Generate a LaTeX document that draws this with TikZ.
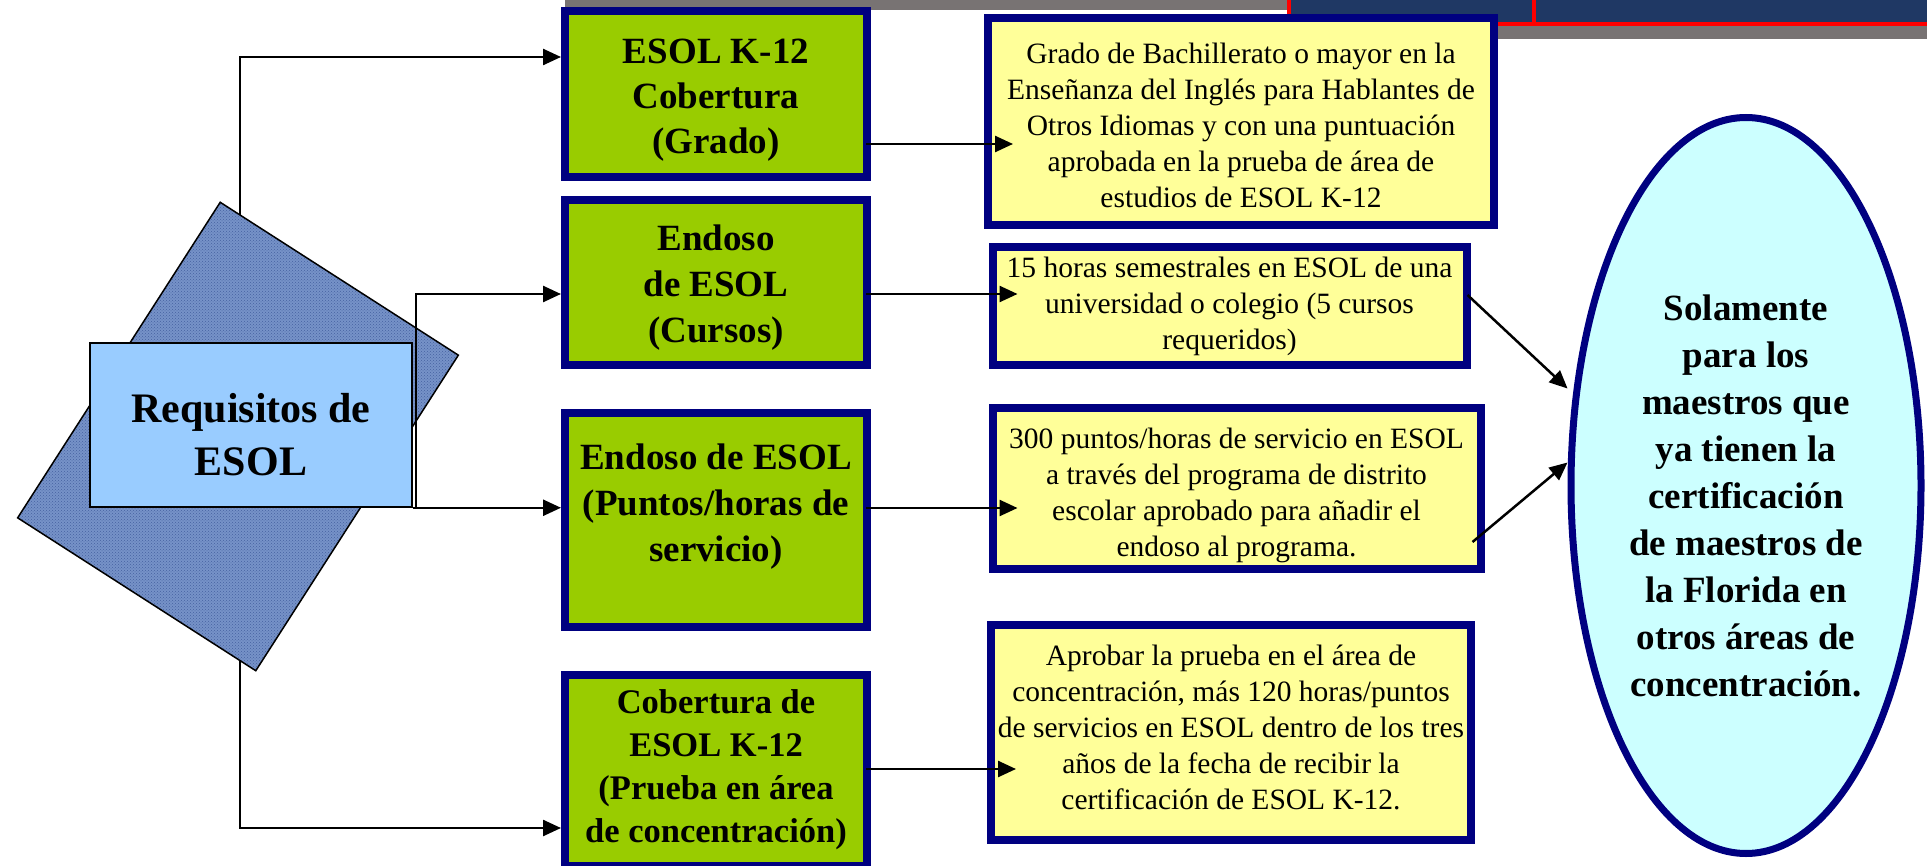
\documentclass[tikz,border=0pt]{standalone}
\usepackage{fontspec}
\setmainfont{Liberation Serif}
\usetikzlibrary{arrows.meta,calc,shapes.geometric,patterns}
\definecolor{navy}{RGB}{0,0,128}
\definecolor{leaf}{RGB}{153,204,0}
\definecolor{paleyellow}{RGB}{255,255,153}
\definecolor{palecyan}{RGB}{204,255,255}
\definecolor{skyblue}{RGB}{153,204,255}
\definecolor{denim}{RGB}{118,146,200}
\definecolor{denimdark}{RGB}{70,98,160}
\definecolor{headblue}{RGB}{31,56,100}
\definecolor{shadowgray}{RGB}{120,115,115}

\begin{document}
\begin{tikzpicture}[x=1pt,y=-1pt]
\tikzstyle{greenbox}=[rectangle, draw=navy, line width=8pt, outer sep=4pt, fill=leaf, inner sep=0pt, minimum width=302pt, align=center, font=\fontsize{37}{46}\selectfont\bfseries]
\tikzstyle{notebox}=[rectangle, draw=navy, line width=8pt, outer sep=4pt, fill=paleyellow, inner sep=0pt, align=center, font=\fontsize{29.5}{36}\selectfont]
\tikzstyle{conn}=[draw=black, line width=2.5pt, -{Triangle[length=18pt,width=16pt]}]

\useasboundingbox (0,0) rectangle (1927,866);
\clip (0,0) rectangle (1927,866);

\fill[shadowgray] (565,-5) rectangle (1295,10);
\fill[shadowgray] (1295,0) rectangle (1940,39);
\draw[red, line width=4pt, fill=headblue] (1289,-10) rectangle (1534,24);
\draw[red, line width=4pt, fill=headblue] (1534,-10) rectangle (1945,24);

\node[greenbox, minimum height=166pt, font=\fontsize{37}{45}\selectfont\bfseries, text height=130pt, text depth=10pt] (g1) at (716,94) {ESOL K-12\\Cobertura\\(Grado)};
\node[greenbox, minimum height=165pt, text height=131pt, text depth=10pt] (g2) at (716,282.5) {Endoso\\de ESOL\\(Cursos)};
\node[greenbox, minimum height=214pt, text height=120pt, text depth=36.6pt] (g3) at (716,520) {Endoso de ESOL\\(Puntos/horas de\\servicio)};
\node[greenbox, minimum height=191pt, font=\fontsize{34.5}{43}\selectfont\bfseries, text height=156pt, text depth=13pt] (g4) at (716,770.5) {Cobertura de\\ESOL K-12\\(Prueba en área\\de concentración)};

\coordinate (hub) at (240,436.5);
\draw[conn] (hub) |- ($(g1.north west)+(0,50)$);
\draw[conn] (hub) |- ($(g4.north west)+(0,157)$);

\node[rectangle, draw=black, line width=1.5pt, minimum width=283pt, minimum height=375pt, rotate=-32.7, preaction={fill=denim}, pattern=crosshatch dots, pattern color=denimdark] (sq) at (238,436.5) {};
\node[rectangle, draw=black, line width=1.5pt, outer sep=0.75pt, fill=skyblue, minimum width=322pt, minimum height=164pt, inner sep=0pt, align=center, text height=110pt, text depth=10pt, font=\fontsize{42}{53}\selectfont\bfseries] (req) at (251,425) {Requisitos de\\ESOL};

\draw[conn] (req.south east) -- ++(3,0) |- ($(g2.north west)+(0,98)$);
\draw[conn] (req.south east) -- (req.south east -| g3.west);

\node[notebox, minimum width=506pt, minimum height=207pt, text height=179pt, text depth=6pt] (y1) at (1241,121.5) {Grado de Bachillerato o mayor en la\\Enseñanza del Inglés para Hablantes de\\Otros Idiomas y con una puntuación\\aprobada en la prueba de área de\\estudios de ESOL K-12};
\node[notebox, minimum width=474pt, minimum height=118pt] (y2) at (1229.5,306) {15 horas semestrales en ESOL de una\\universidad o colegio (5 cursos\\requeridos)};
\node[notebox, minimum width=488pt, minimum height=161pt, text height=141pt, text depth=6pt] (y3) at (1236.5,488.5) {300 puntos/horas de servicio en ESOL\\a través del programa de distrito\\escolar aprobado para añadir el\\endoso al programa.};
\node[notebox, minimum width=480pt, minimum height=215pt, text depth=10pt] (y4) at (1231,732.5) {Aprobar la prueba en el área de\\concentración, más 120 horas/puntos\\de servicios en ESOL dentro de los tres\\años de la fecha de recibir la\\certificación de ESOL K-12.};

\node[ellipse, draw=navy, line width=7pt, outer sep=3.5pt, fill=palecyan, minimum width=350pt, minimum height=736pt, inner sep=0pt, align=center, text height=431pt, text depth=10pt, font=\fontsize{37}{47}\selectfont\bfseries] (el) at (1746,485.5) {Solamente\\para los\\maestros que\\ya tienen la\\certificación\\de maestros de\\la Florida en\\otros áreas de\\concentración.};

\foreach \g/\n/\d in {g1/y1/137, g2/y2/98, g3/y3/99, g4/y4/98} {
\draw[conn] ($(\g.north east)+(-5,\d)$) -- ($(\g.north east -| \n.west)+(29,\d)$);
}
\draw[conn] ($(y2.north east)+(-3,52)$) -- ($(el.west)+(0,-97)$);
\draw[conn] ($(y3.north east)+(-12,138)$) -- ($(el.west)+(0,-23)$);

\end{tikzpicture}
\end{document}
